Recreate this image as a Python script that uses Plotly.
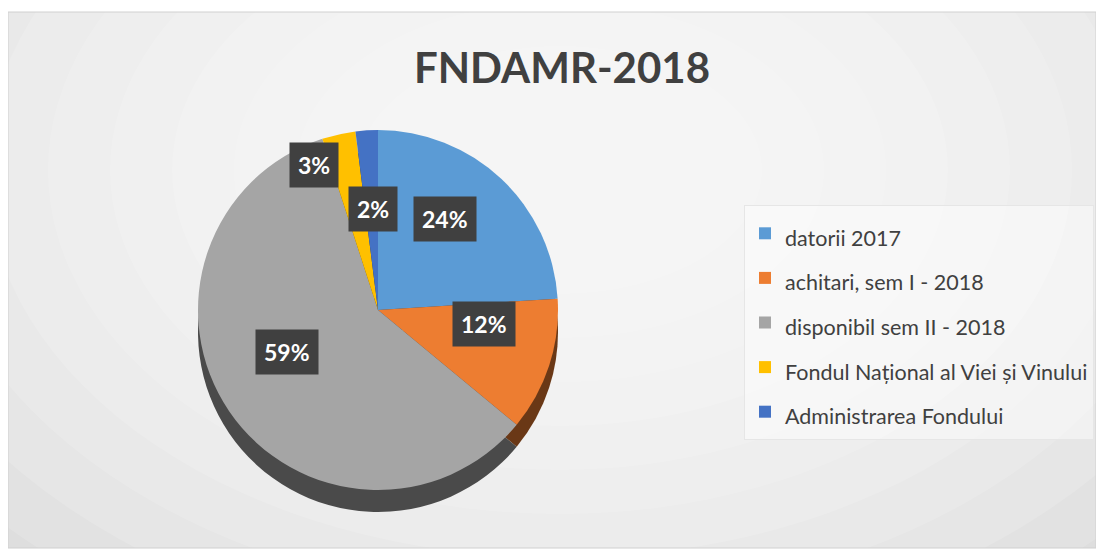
import math
import plotly.graph_objects as go

# ---- data ----
categories = [
    "datorii 2017",
    "achitari, sem I - 2018",
    "disponibil sem II - 2018",
    "Fondul Național al Viei și Vinului",
    "Administrarea Fondului",
]
shares = [24, 12, 59, 3, 2]
colors = ["#5B9BD5", "#ED7D31", "#A5A5A5", "#FFC000", "#4472C4"]
title_text = "FNDAMR-2018"

# ---- layout constants (page pixel coordinates) ----
OFF = 8                       # the html body margin
W, H = 1096, 542              # figure size so that it fits the window
CX, CY, R = 378, 310, 180     # pie centre / radius
DEPTH = 22
LCX, LCY = 378, 290           # centre used to place the value labels
label_radius = [0.54, 0.62, 0.61, 0.71, 0.45]
label_xshift = [0, 0, 0, -36, 0]
FONT = "Lato, 'Open Sans', sans-serif"


def px(x):
    return (x - OFF) / W


def py(y):
    return 1 - (y - OFF) / H


def darker(hexc, f=0.45):
    h = hexc.lstrip("#")
    r, g, b = (int(h[i:i + 2], 16) for i in (0, 2, 4))
    return "rgb({},{},{})".format(int(r * f), int(g * f), int(b * f))


def dom(cx, cy, r):
    return dict(x=[px(cx - r), px(cx + r)], y=[py(cy + r), py(cy - r)])


fig = go.Figure()

# side (depth) of the pie
fig.add_trace(go.Pie(
    labels=categories, values=shares, sort=False, direction="clockwise",
    marker=dict(colors=[darker(c) for c in colors], line=dict(width=0)),
    textinfo="none", hoverinfo="skip", showlegend=False,
    domain=dom(CX, CY + DEPTH, R),
))

# top face
fig.add_trace(go.Pie(
    labels=[f"<span style='font-size:21.5px'>{c}</span>" for c in categories],
    values=shares, sort=False, direction="clockwise",
    marker=dict(colors=colors, line=dict(width=0)),
    textinfo="none", hovertemplate="%{label}: %{percent}<extra></extra>",
    domain=dom(CX, CY, R),
))


def rect(x0, x1, y0, y1, **kw):
    return dict(type="rect", xref="paper", yref="paper",
                x0=px(x0), x1=px(x1), y0=py(y1), y1=py(y0), layer="below", **kw)


# background frame with a soft radial gradient
shapes = [rect(8, 1096, 12, 548, fillcolor="#dedede", line=dict(width=0))]
for k in range(10):
    rx = 760 - k * 62
    ry = 520 - k * 44
    shapes.append(dict(type="circle", xref="paper", yref="paper",
                       x0=px(560 - rx), x1=px(560 + rx),
                       y0=py(170 + ry), y1=py(170 - ry),
                       fillcolor="white", opacity=0.14, line=dict(width=0),
                       layer="below"))
for x0, x1, y0, y1 in [(0, 1200, 0, 12), (0, 1200, 548, 700),
                       (0, 8, 0, 700), (1096, 1200, 0, 700)]:
    shapes.append(rect(x0, x1, y0, y1, fillcolor="white", line=dict(width=0)))
shapes.append(rect(8, 1096, 12, 548, fillcolor="rgba(0,0,0,0)",
                   line=dict(color="#d0d0d0", width=1)))

# percentage labels in dark boxes, positioned from the data
total = sum(shares)
annotations = []
cum = 0
for v, f, xs in zip(shares, label_radius, label_xshift):
    mid = (cum + v / 2) / total * 2 * math.pi
    cum += v
    lx = LCX + math.sin(mid) * R * f + xs
    ly = LCY - math.cos(mid) * R * f
    annotations.append(dict(
        x=px(lx), y=py(ly), xref="paper", yref="paper",
        xanchor="center", yanchor="middle",
        text=f"<b>{round(v / total * 100)}%</b>", showarrow=False,
        font=dict(family=FONT, size=23, color="white"),
        bgcolor="#404040", borderpad=8,
    ))

fig.update_layout(
    width=W, height=H,
    margin=dict(l=0, r=0, t=0, b=0),
    paper_bgcolor="white",
    title=dict(text=f"<b>{title_text}</b>", x=px(562), xanchor="center",
               y=py(68), yanchor="middle",
               font=dict(family=FONT, size=42, color="#404040")),
    legend=dict(x=px(744), y=py(205), xanchor="left", yanchor="top",
                bgcolor="rgba(255,255,255,0.45)", bordercolor="#e6e6e6",
                borderwidth=1, font=dict(family=FONT, size=32, color="#404040"),
                itemwidth=30, itemclick=False),
    shapes=shapes,
    annotations=annotations,
)

fig.write_html("out.html")
